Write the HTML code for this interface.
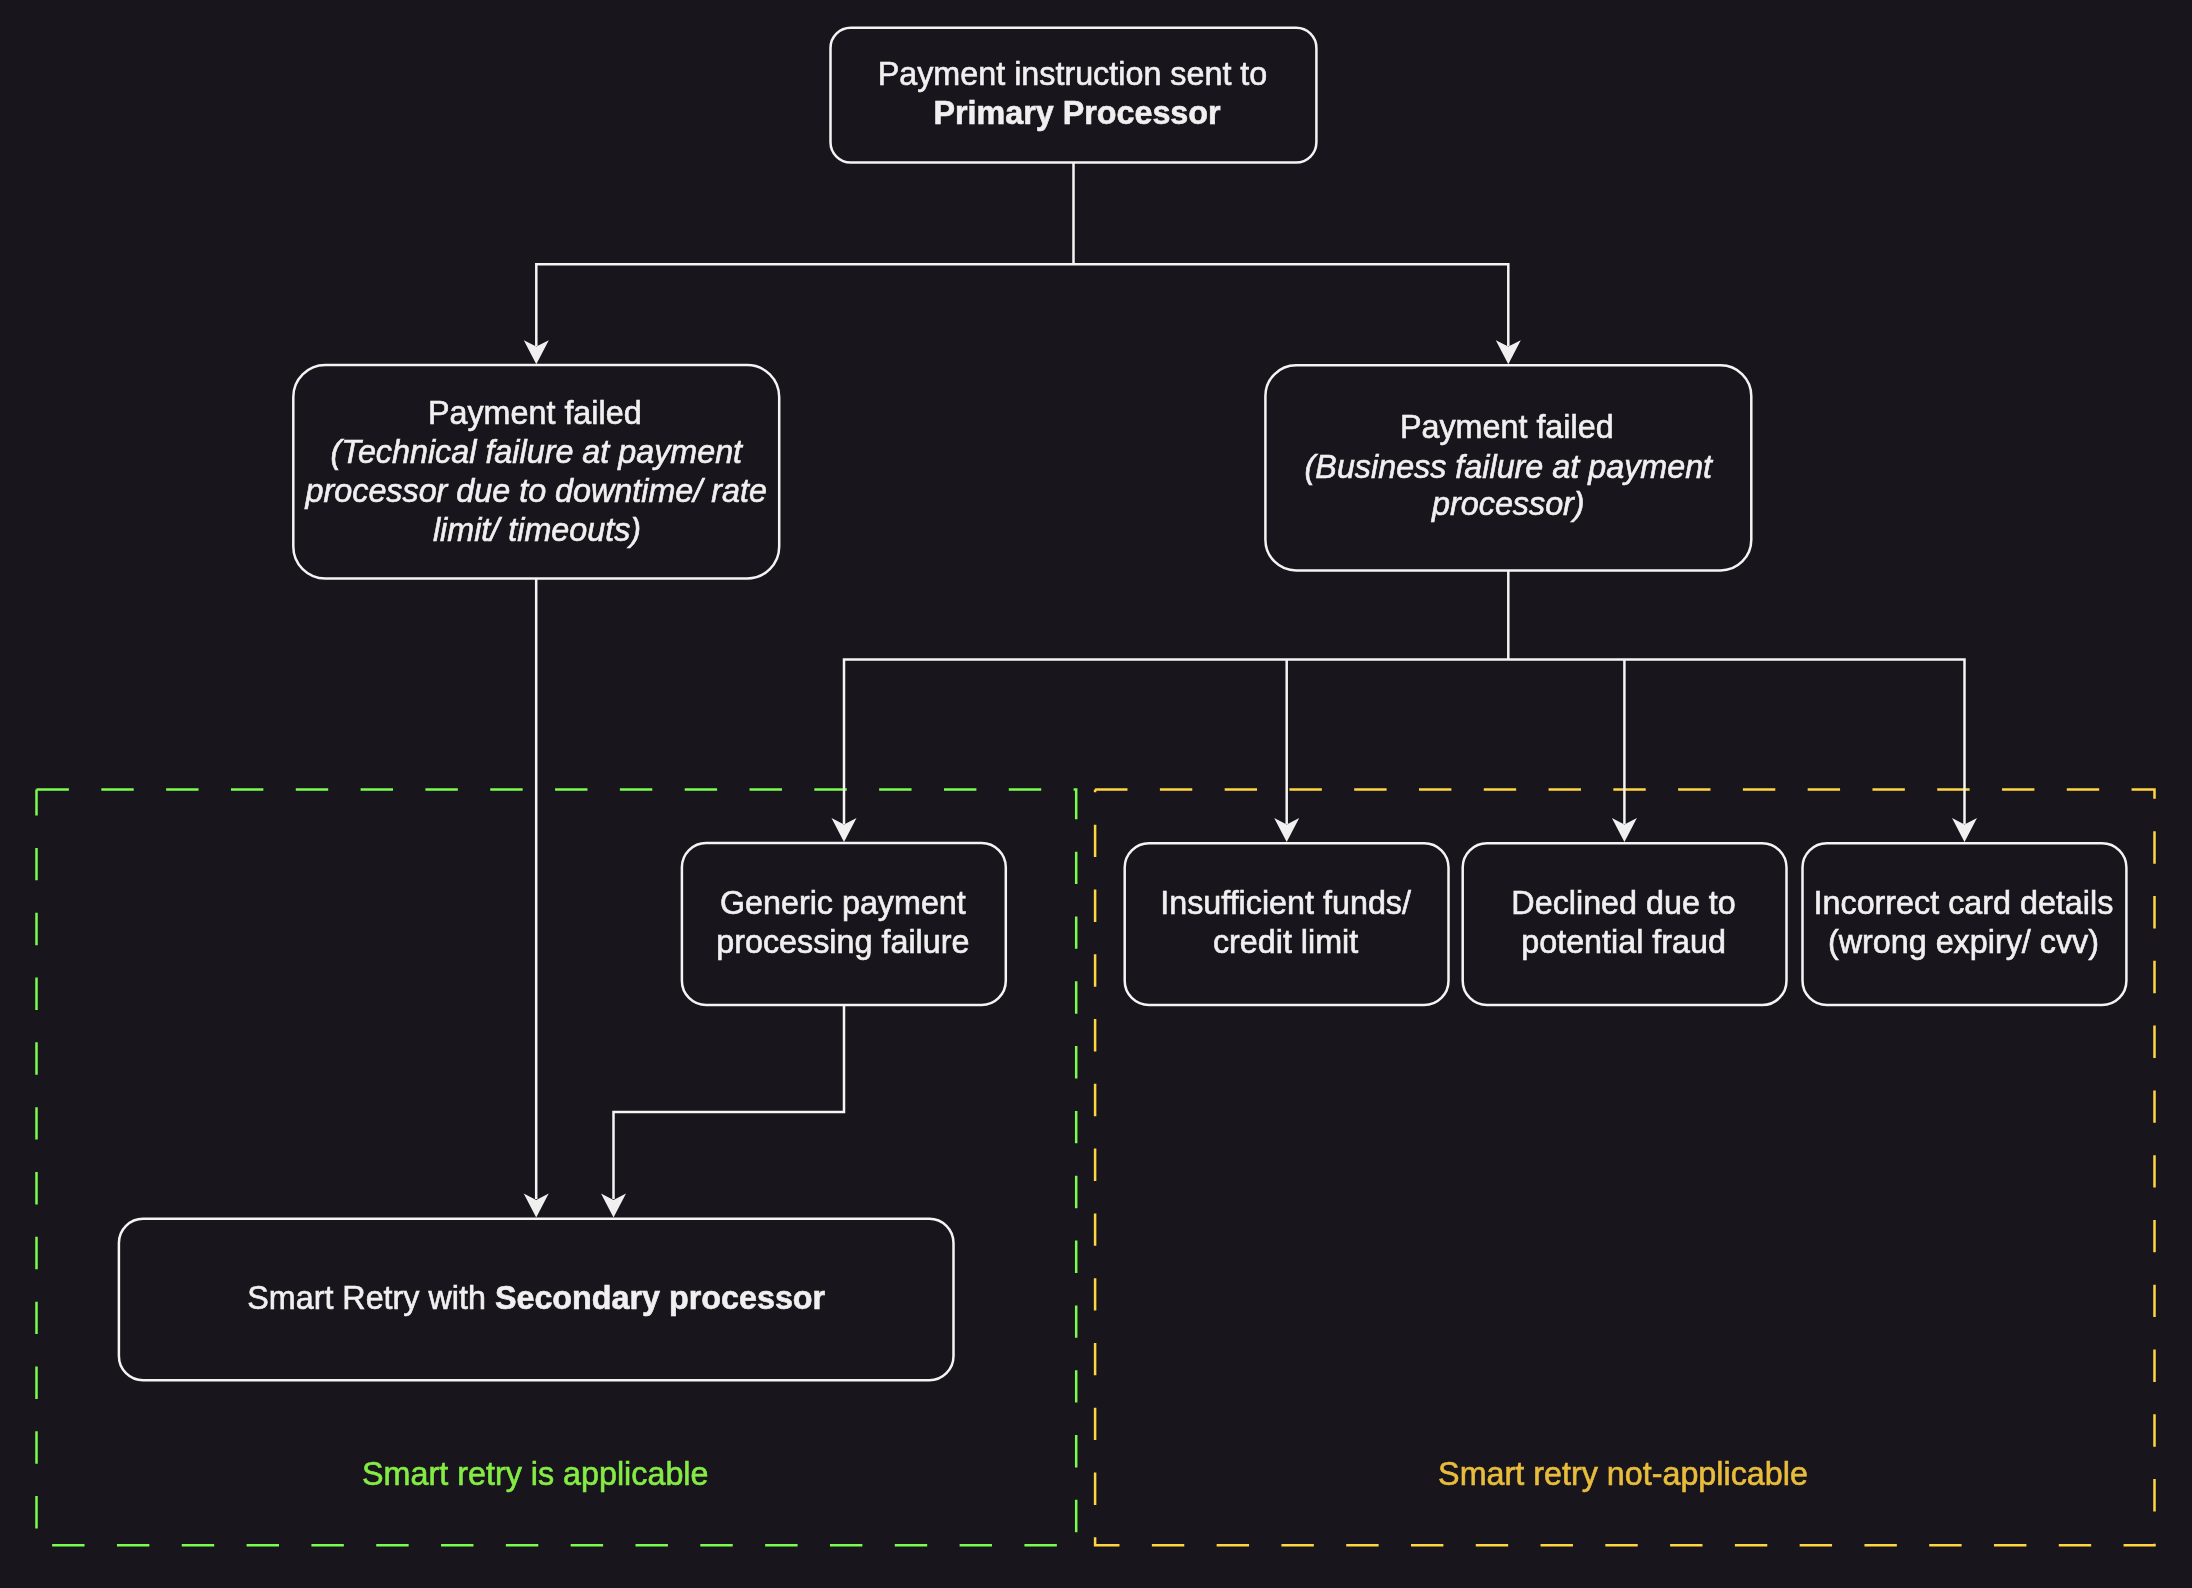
<!DOCTYPE html>
<html><head><meta charset="utf-8">
<style>
html,body{margin:0;padding:0;background:#18161c;width:2192px;height:1588px;overflow:hidden}
svg{display:block;will-change:transform;font-family:"Liberation Sans",sans-serif;font-size:32.3px}
</style></head><body>
<svg width="2192" height="1588" viewBox="0 0 2192 1588">
<rect x="0" y="0" width="2192" height="1588" fill="#18161c"/>
<path d="M36.5 789.4 H1076.2 V1545.3 H36.5 V789.4" fill="none" stroke="#7bfd4d" stroke-width="2.5" stroke-dasharray="32.41 32.41" stroke-linecap="butt"/>
<path d="M1095.1 789.4 H2154.5 V1545.3 H1095.1 V789.4" fill="none" stroke="#ffd640" stroke-width="2.5" stroke-dasharray="32.39 32.39" stroke-linecap="butt"/>
<path d="M1073.5 162.5 L1073.5 264.3" fill="none" stroke="#f4f4f4" stroke-width="2.5" stroke-linejoin="miter" stroke-linecap="butt"/>
<path d="M536.3 346 L536.3 264.3 L1508.3 264.3 L1508.3 346" fill="none" stroke="#f4f4f4" stroke-width="2.5" stroke-linejoin="miter" stroke-linecap="butt"/>
<path d="M536.3 364.2 L523.8 340.2 L536.3 346.59999999999997 L548.8 340.2 Z" fill="#f0f0f0"/>
<path d="M1508.3 364.2 L1495.8 340.2 L1508.3 346.59999999999997 L1520.8 340.2 Z" fill="#f0f0f0"/>
<path d="M1508.3 570.4 L1508.3 659.5" fill="none" stroke="#f4f4f4" stroke-width="2.5" stroke-linejoin="miter" stroke-linecap="butt"/>
<path d="M844 824 L844 659.5 L1964.5 659.5 L1964.5 824" fill="none" stroke="#f4f4f4" stroke-width="2.5" stroke-linejoin="miter" stroke-linecap="butt"/>
<path d="M1286.7 659.5 L1286.7 824" fill="none" stroke="#f4f4f4" stroke-width="2.5" stroke-linejoin="miter" stroke-linecap="butt"/>
<path d="M1624.4 659.5 L1624.4 824" fill="none" stroke="#f4f4f4" stroke-width="2.5" stroke-linejoin="miter" stroke-linecap="butt"/>
<path d="M844 842 L831.5 818 L844 824.4 L856.5 818 Z" fill="#f0f0f0"/>
<path d="M1286.7 842 L1274.2 818 L1286.7 824.4 L1299.2 818 Z" fill="#f0f0f0"/>
<path d="M1624.4 842 L1611.9 818 L1624.4 824.4 L1636.9 818 Z" fill="#f0f0f0"/>
<path d="M1964.5 842 L1952.0 818 L1964.5 824.4 L1977.0 818 Z" fill="#f0f0f0"/>
<path d="M536.2 578.4 L536.2 1199" fill="none" stroke="#f4f4f4" stroke-width="2.5" stroke-linejoin="miter" stroke-linecap="butt"/>
<path d="M536.2 1217.5 L523.7 1193.5 L536.2 1199.9 L548.7 1193.5 Z" fill="#f0f0f0"/>
<path d="M844 1004.9 L844 1111.9 L613.5 1111.9 L613.5 1199" fill="none" stroke="#f4f4f4" stroke-width="2.5" stroke-linejoin="miter" stroke-linecap="butt"/>
<path d="M613.5 1217.5 L601.0 1193.5 L613.5 1199.9 L626.0 1193.5 Z" fill="#f0f0f0"/>
<rect x="830.50" y="27.70" width="485.90" height="134.80" rx="20.22" ry="20.22" fill="#18161c" stroke="#f4f4f4" stroke-width="2.5"/>
<rect x="293.30" y="365.10" width="485.90" height="213.30" rx="31.99" ry="31.99" fill="#18161c" stroke="#f4f4f4" stroke-width="2.5"/>
<rect x="1265.40" y="365.30" width="485.90" height="205.10" rx="30.76" ry="30.76" fill="#18161c" stroke="#f4f4f4" stroke-width="2.5"/>
<rect x="681.90" y="843.10" width="323.90" height="161.80" rx="24.27" ry="24.27" fill="#18161c" stroke="#f4f4f4" stroke-width="2.5"/>
<rect x="1124.70" y="843.20" width="323.80" height="161.90" rx="24.28" ry="24.28" fill="#18161c" stroke="#f4f4f4" stroke-width="2.5"/>
<rect x="1462.70" y="843.20" width="323.80" height="161.90" rx="24.28" ry="24.28" fill="#18161c" stroke="#f4f4f4" stroke-width="2.5"/>
<rect x="1802.50" y="843.20" width="323.90" height="161.90" rx="24.28" ry="24.28" fill="#18161c" stroke="#f4f4f4" stroke-width="2.5"/>
<rect x="118.90" y="1218.70" width="834.60" height="161.60" rx="24.24" ry="24.24" fill="#18161c" stroke="#f4f4f4" stroke-width="2.5"/>
<text x="1072.5" y="84.9" text-anchor="middle" fill="#f0f0f0" stroke="#f0f0f0" stroke-width="0.6" >Payment instruction sent to</text>
<text x="1077.0" y="124.0" text-anchor="middle" fill="#f0f0f0" stroke="#f0f0f0" stroke-width="0.6" font-weight="bold">Primary Processor</text>
<text x="534.8" y="423.7" text-anchor="middle" fill="#f0f0f0" stroke="#f0f0f0" stroke-width="0.6" >Payment failed</text>
<text x="536.25" y="462.5" text-anchor="middle" fill="#f0f0f0" stroke="#f0f0f0" stroke-width="0.6" font-style="italic">(Technical failure at payment</text>
<text x="536.25" y="502.0" text-anchor="middle" fill="#f0f0f0" stroke="#f0f0f0" stroke-width="0.6" font-style="italic">processor due to downtime/ rate</text>
<text x="537.0" y="540.6" text-anchor="middle" fill="#f0f0f0" stroke="#f0f0f0" stroke-width="0.6" font-style="italic">limit/ timeouts)</text>
<text x="1506.8" y="437.9" text-anchor="middle" fill="#f0f0f0" stroke="#f0f0f0" stroke-width="0.6" >Payment failed</text>
<text x="1508.35" y="477.8" text-anchor="middle" fill="#f0f0f0" stroke="#f0f0f0" stroke-width="0.6" font-style="italic">(Business failure at payment</text>
<text x="1508.35" y="514.9" text-anchor="middle" fill="#f0f0f0" stroke="#f0f0f0" stroke-width="0.6" font-style="italic">processor)</text>
<text x="842.85" y="913.7" text-anchor="middle" fill="#f0f0f0" stroke="#f0f0f0" stroke-width="0.6" >Generic payment</text>
<text x="842.85" y="952.8" text-anchor="middle" fill="#f0f0f0" stroke="#f0f0f0" stroke-width="0.6" >processing failure</text>
<text x="1285.6" y="913.7" text-anchor="middle" fill="#f0f0f0" stroke="#f0f0f0" stroke-width="0.6" >Insufficient funds/</text>
<text x="1285.6" y="952.8" text-anchor="middle" fill="#f0f0f0" stroke="#f0f0f0" stroke-width="0.6" >credit limit</text>
<text x="1623.6" y="913.7" text-anchor="middle" fill="#f0f0f0" stroke="#f0f0f0" stroke-width="0.6" >Declined due to</text>
<text x="1623.6" y="952.8" text-anchor="middle" fill="#f0f0f0" stroke="#f0f0f0" stroke-width="0.6" >potential fraud</text>
<text x="1963.45" y="913.7" text-anchor="middle" fill="#f0f0f0" stroke="#f0f0f0" stroke-width="0.6" >Incorrect card details</text>
<text x="1963.45" y="952.8" text-anchor="middle" fill="#f0f0f0" stroke="#f0f0f0" stroke-width="0.6" >(wrong expiry/ cvv)</text>
<text x="536.2" y="1309.1" text-anchor="middle" fill="#f0f0f0" stroke="#f0f0f0" stroke-width="0.6">Smart Retry with <tspan font-weight="bold">Secondary processor</tspan></text>
<text x="535.3" y="1485.2" text-anchor="middle" fill="#84ec44" stroke="#84ec44" stroke-width="0.6" >Smart retry is applicable</text>
<text x="1623.0" y="1484.9" text-anchor="middle" fill="#e9bd3c" stroke="#e9bd3c" stroke-width="0.6" >Smart retry not-applicable</text>
</svg>
</body></html>
